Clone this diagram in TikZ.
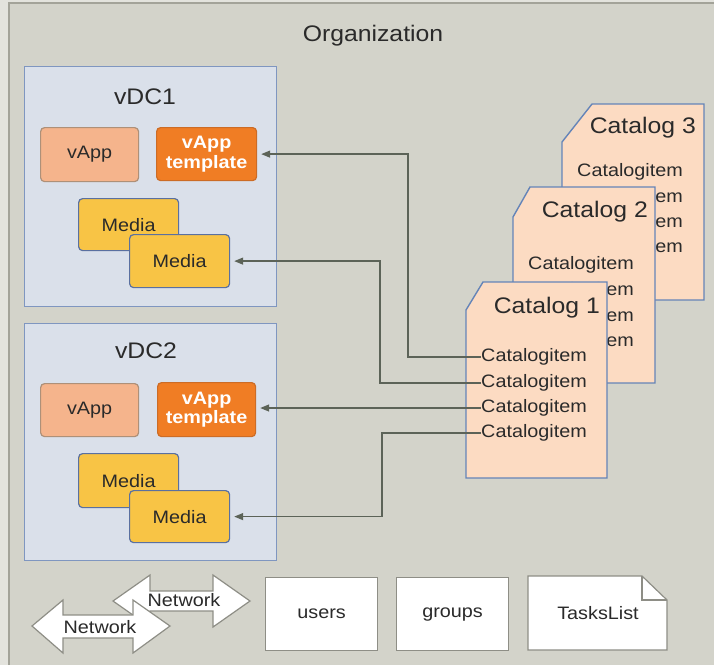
\documentclass[tikz,border=0pt]{standalone}
\usepackage{fontspec}
\setmainfont{Liberation Sans}[FakeStretch=1.1]
\usetikzlibrary{arrows.meta}
\definecolor{outerbg}{HTML}{E3E3DD}
\definecolor{framebg}{HTML}{D3D3CA}
\definecolor{framebd}{HTML}{A3A399}
\definecolor{vdcfill}{HTML}{DAE0EA}
\definecolor{vdcbd}{HTML}{7F96C0}
\definecolor{vappfill}{HTML}{F5B48C}
\definecolor{vappbd}{HTML}{AE9078}
\definecolor{tmplfill}{HTML}{F07D24}
\definecolor{tmplbd}{HTML}{CC6C26}
\definecolor{mediafill}{HTML}{F8C445}
\definecolor{mediabd}{HTML}{5A70A0}
\definecolor{catfill}{HTML}{FCDBC2}
\definecolor{catbd}{HTML}{6484B8}
\definecolor{conncol}{HTML}{5C6358}
\definecolor{plainbd}{HTML}{8E8E86}
\definecolor{txt}{HTML}{2A2A2A}
\newcommand\lblfont{\fontsize{18}{19.5}\selectfont}
\newcommand\bigfont{\fontsize{22.5}{26}\selectfont}
\tikzset{
  vdc/.style={draw=vdcbd, fill=vdcfill, line width=1.2pt, anchor=north west, inner sep=0},
  box/.style={rounded corners=4pt, line width=1.2pt, anchor=north west, align=center, font=\lblfont, inner sep=0},
  vappbox/.style={box, draw=vappbd, fill=vappfill, text=txt},
  tmplbox/.style={box, draw=tmplbd, fill=tmplfill, text=white, font=\lblfont\bfseries},
  mediabox/.style={box, draw=mediabd, fill=mediafill, text=txt},
  catshape/.style={draw=catbd, fill=catfill, line width=1.4pt, line join=miter},
  cattitle/.style={anchor=east, inner sep=0, font=\bigfont, text=txt},
  catitem/.style={anchor=west, inner sep=0, font=\lblfont, text=txt},
  conn/.style={draw=conncol, line width=1.3pt, -{Triangle[length=9pt,width=7pt]}, shorten >=4pt},
  plainbox/.style={draw=plainbd, fill=white, line width=1.2pt, anchor=north west, inner sep=0, font=\lblfont, text=txt},
  netarrow/.style={draw=plainbd, fill=white, line width=1.2pt, line join=miter},
  nettext/.style={inner sep=0, font=\lblfont, text=txt}
}
\begin{document}
\begin{tikzpicture}[x=1pt,y=-1pt]
\useasboundingbox (0,0) rectangle (714,665);
\fill[outerbg] (0,0) rectangle (714,665);
\fill[framebg] (9,3) rectangle (714,665);
\draw[framebd, line width=1.2pt] (9,665) -- (9,3) -- (714,3);
\node[inner sep=0, font=\bigfont, text=txt] (org) at (373,36) {Organization};

% vDC1
\node[vdc, minimum width=252pt, minimum height=240pt] (vdc1) at (24,66) {};
\node[inner sep=0, font=\bigfont, text=txt] (vdc1t) at (145,97) {vDC1};
\node[vappbox, minimum width=98pt, minimum height=54pt] (va1) at (40,127) {vApp};
\node[tmplbox, minimum width=100pt, minimum height=53pt] (t1) at (156,127) {vApp\\template};
\node[mediabox, minimum width=100pt, minimum height=52pt] (mb1) at (78,198) {Media};
\node[mediabox, minimum width=100pt, minimum height=53pt] (mf1) at (129,234) {Media};

% vDC2
\node[vdc, minimum width=252pt, minimum height=237pt] (vdc2) at (24,323) {};
\node[inner sep=0, font=\bigfont, text=txt] (vdc2t) at (146,351) {vDC2};
\node[vappbox, minimum width=98pt, minimum height=53pt] (va2) at (40,383) {vApp};
\node[tmplbox, minimum width=98pt, minimum height=54pt] (t2) at (157,382) {vApp\\template};
\node[mediabox, minimum width=100pt, minimum height=54pt] (mb2) at (78,453) {Media};
\node[mediabox, minimum width=100pt, minimum height=52pt] (mf2) at (129,490) {Media};

% Catalog 3
\path[catshape] (562,142) -- (592,104) -- (704,104) -- (704,300) -- (562,300) -- cycle;
\node[cattitle] (c3t) at (696,128) {Catalog 3};
\node[catitem] (c3a) at (577,172) {Catalogitem};
\node[catitem] (c3b) at (577,198) {Catalogitem};
\node[catitem] (c3c) at (577,223) {Catalogitem};
\node[catitem] (c3d) at (577,248) {Catalogitem};

% Catalog 2
\path[catshape] (513,217) -- (530,187) -- (655,187) -- (655,383) -- (513,383) -- cycle;
\node[cattitle] (c2t) at (648,212) {Catalog 2};
\node[catitem] (c2a) at (528,265) {Catalogitem};
\node[catitem] (c2b) at (528,291) {Catalogitem};
\node[catitem] (c2c) at (528,317) {Catalogitem};
\node[catitem] (c2d) at (528,342) {Catalogitem};

% Catalog 1
\path[catshape] (466,310) -- (483,282) -- (607,282) -- (607,478) -- (466,478) -- cycle;
\node[cattitle] (c1t) at (600,308) {Catalog 1};
\node[catitem] (c1a) at (481,357) {Catalogitem};
\node[catitem] (c1b) at (481,383) {Catalogitem};
\node[catitem] (c1c) at (481,408) {Catalogitem};
\node[catitem] (c1d) at (481,433) {Catalogitem};

% connectors
\draw[conn] (c1a.west) -- ++(-73,0) |- (t1.east);
\draw[conn] (c1b.west) -- ++(-101,0) |- (mf1.east);
\draw[conn] (c1c.west) -- (c1c.west -| t2.east);
\draw[conn] (c1d.west) -- ++(-99,0) |- (mf2.east);

% networks
\path[netarrow] (113,601) -- (150,575) -- (150,591) -- (213,591) -- (213,575) -- (250,601) -- (213,627) -- (213,611) -- (150,611) -- (150,627) -- cycle;
\node[nettext] (net1) at (184,600) {Network};
\path[netarrow] (32,626) -- (63,600) -- (63,615) -- (133,615) -- (133,600) -- (170,626) -- (133,653) -- (133,638) -- (63,638) -- (63,653) -- cycle;
\node[nettext] (net2) at (100,627) {Network};

% bottom boxes
\node[plainbox, minimum width=112pt, minimum height=73pt] (users) at (265,577) {users};
\node[plainbox, minimum width=112pt, minimum height=73pt] (groups) at (396,577) {groups};
\path[draw=plainbd, fill=white, line width=1.2pt, line join=miter] (528,576) -- (642,576) -- (667,600) -- (667,650) -- (528,650) -- cycle;
\draw[plainbd, line width=1.2pt, line join=miter] (642,576) -- (642,600) -- (667,600);
\node[nettext] (tasks) at (598,613) {TasksList};
\end{tikzpicture}
\end{document}
